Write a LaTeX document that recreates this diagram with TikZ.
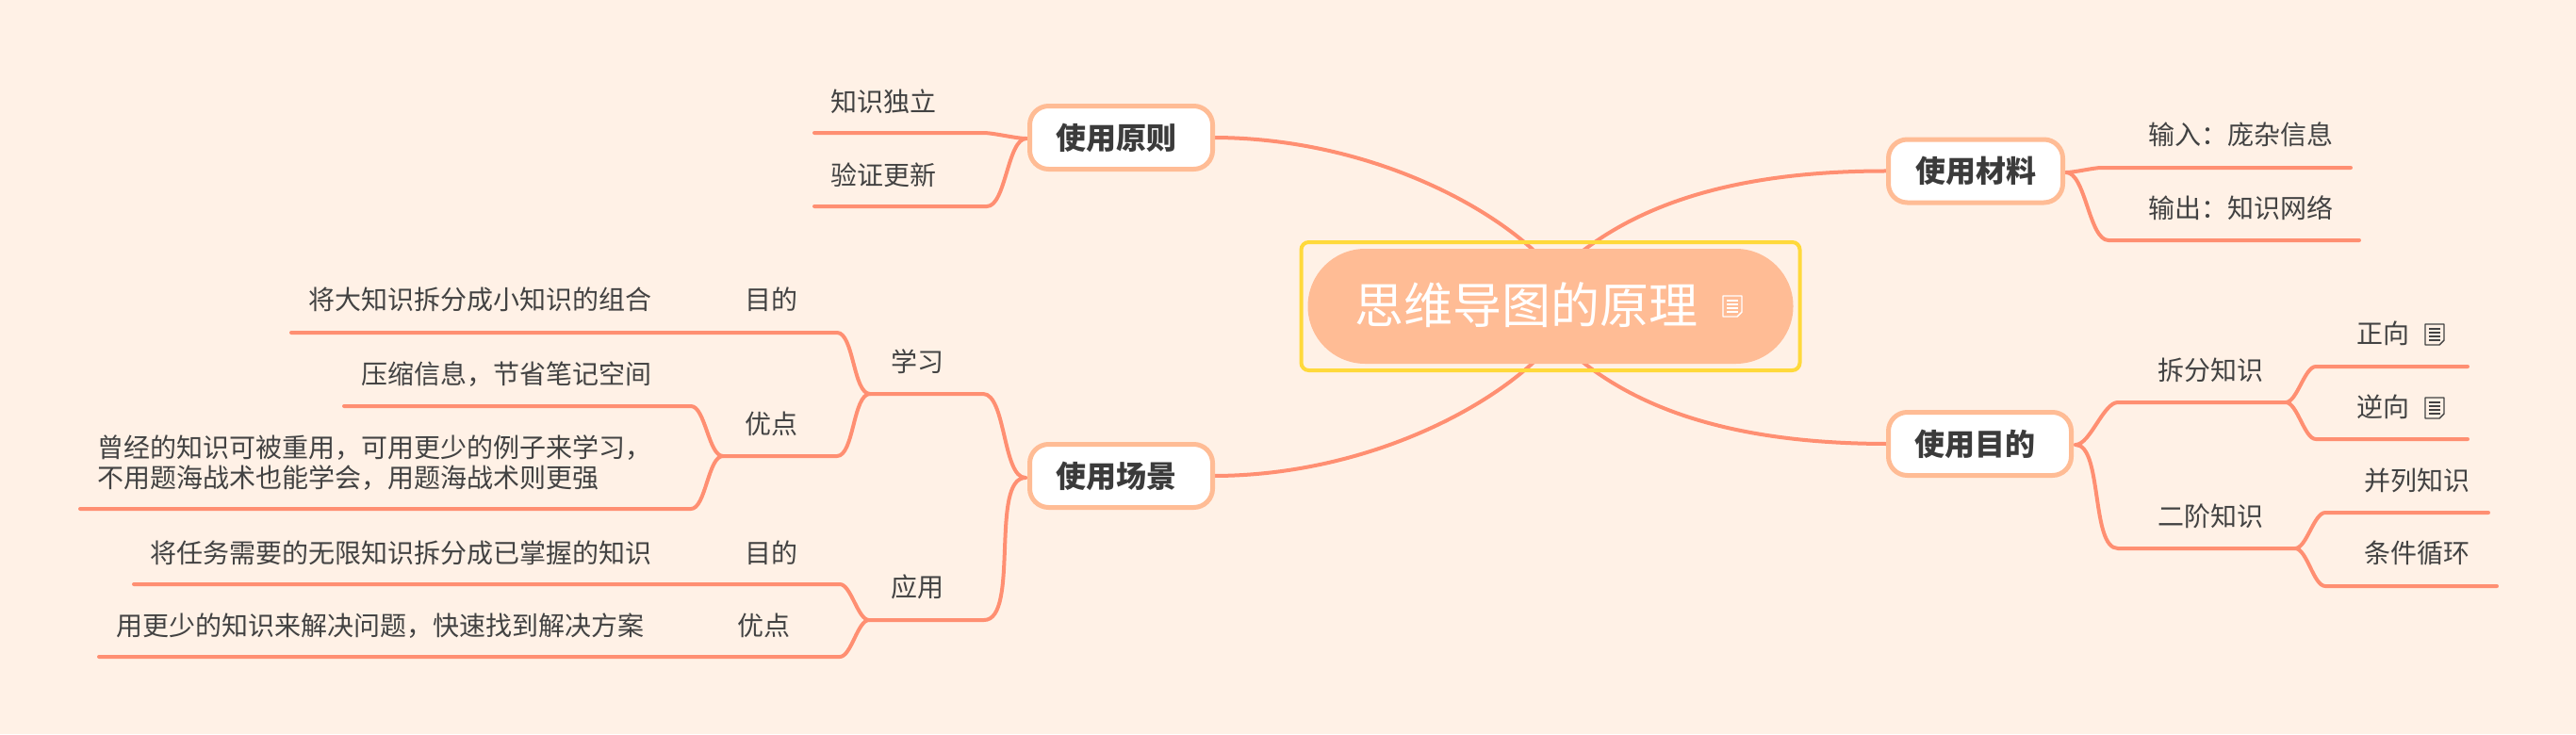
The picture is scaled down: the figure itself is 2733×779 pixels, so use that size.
\documentclass[tikz,border=0pt]{standalone}
\usepackage{fontspec}
\setmainfont{Noto Sans CJK SC}
\usetikzlibrary{backgrounds}
\definecolor{bgc}{HTML}{FFF1E6}
\definecolor{branch}{HTML}{FF8F72}
\definecolor{pale}{HTML}{FFBC95}
\definecolor{hilite}{HTML}{FFD93B}
\definecolor{ink}{HTML}{424242}
\tikzset{
  x=1pt,y=-1pt,
  every node/.style={inner sep=0pt,outer sep=0pt},
  leaf/.style={font=\fontsize{28}{32}\selectfont,text=ink,text height=24pt,text depth=3pt},
  primary/.style={draw=pale,line width=5pt,fill=white,rounded corners=20pt,
    minimum height=67pt,font=\bfseries\fontsize{32}{36}\selectfont,text=ink!90!black,
    text height=27.5pt,text depth=3.5pt},
  rootpill/.style={fill=pale,rounded corners=60.9pt,minimum width=515pt,minimum height=122pt},
  roottext/.style={font=\fontsize{52}{60}\selectfont,text=white,text height=44.5pt,text depth=5.5pt},
  focus/.style={draw=hilite,line width=4pt,rounded corners=8pt,minimum width=529pt,minimum height=136pt},
  link/.style={draw=branch,line width=4pt,line cap=round,line join=round},
  sshape/.style={out=#1,in=#1+180,looseness=.62},
  sshape/.default=0,
  noteicon/.pic={
    \draw[line width=1.4pt,line join=round] (-10,-11) -- (10,-11) -- (10,6) -- (5,11) -- (-10,11) -- cycle;
    \draw[line width=1.4pt] (-6,-6) -- (6,-6) (-6,-2) -- (6,-2) (-6,2) -- (6,2) (-6,6) -- (6,6);
  }
}
\begin{document}
\begin{tikzpicture}
\useasboundingbox (0,0) rectangle (2733,779);
% nodes
\node[rootpill] (root) at (1645,325) {};
\node[roottext] (roottxt) at (1619,324) {思维导图的原理};
\pic[white] at (1838,325) {noteicon};
\node[focus] (rootfocus) at (1645,325) {};
\coordinate (rootul) at (1646,285);
\coordinate (rootll) at (1646,365);
\coordinate (rootur) at (1657,285);
\coordinate (rootlr) at (1657,365);

\node[primary,minimum width=194pt] (yl) at (1189.5,146) {使用原则\hspace*{10pt}};
\node[primary,minimum width=194pt] (cj) at (1189.5,505) {使用场景\hspace*{10pt}};
\node[primary,minimum width=185pt] (cl) at (2096,181.5) {使用材料};
\node[primary,minimum width=194pt] (md) at (2100.5,471) {使用目的\hspace*{10pt}};

% right upper
\node[leaf] (cl1) at (2377,143) {输入：庞杂信息};
\node[leaf] (cl2) at (2377,221) {输出：知识网络};
\coordinate (cla) at (2192,183);
\coordinate (cl1c) at (2230,178);\coordinate (cl1e) at (2494,178);
\coordinate (cl2c) at (2237,255);\coordinate (cl2e) at (2503,255);

% right lower
\node[leaf] (cf) at (2345.5,393) {拆分知识};
\node[leaf] (ej) at (2345.5,548) {二阶知识};
\node[leaf] (zx) at (2528.5,354) {正向};
\pic[ink] at (2583,355) {noteicon};
\node[leaf] (nx) at (2528.5,432) {逆向};
\pic[ink] at (2583,433) {noteicon};
\node[leaf] (bl) at (2564.5,510) {并列知识};
\node[leaf] (tj) at (2564.5,587) {条件循环};
\coordinate (mda) at (2202,472);
\coordinate (cfc) at (2247,427);\coordinate (cfe) at (2425,427);
\coordinate (ejc) at (2247,582);\coordinate (eje) at (2435,582);
\coordinate (zxc) at (2457,389);\coordinate (zxe) at (2618,389);
\coordinate (nxc) at (2457,466);\coordinate (nxe) at (2618,466);
\coordinate (blc) at (2467,544);\coordinate (ble) at (2640,544);
\coordinate (tjc) at (2467,622);\coordinate (tje) at (2649,622);

% left upper
\node[leaf] (zs) at (937,108) {知识独立};
\node[leaf] (yz) at (937,186) {验证更新};
\coordinate (yla) at (1089,147);
\coordinate (zsc) at (1043,141);\coordinate (zse) at (864,141);
\coordinate (yzc) at (1047,219);\coordinate (yze) at (864,219);

% left lower
\node[leaf] (xx) at (973,384) {学习};
\node[leaf] (yy) at (973.5,623) {应用};
\node[leaf] (m1) at (818.5,318) {目的};
\node[leaf] (y1) at (818.5,450) {优点};
\node[leaf] (m2) at (818.5,587) {目的};
\node[leaf] (y2) at (810,664) {优点};
\node[leaf] (t1) at (509,318) {将大知识拆分成小知识的组合};
\node[leaf] (t2) at (537,397) {压缩信息，节省笔记空间};
\node[leaf,align=left,anchor=west] (t3) at (103,507) {曾经的知识可被重用，可用更少的例子来学习，\\不用题海战术也能学会，用题海战术则更强};
\node[leaf] (t4) at (425,587) {将任务需要的无限知识拆分成已掌握的知识};
\node[leaf] (t5) at (403,664) {用更少的知识来解决问题，快速找到解决方案};
\coordinate (cja) at (1088,507);
\coordinate (xxc) at (1043,418);\coordinate (xxa) at (923,418);
\coordinate (yyc) at (1044,658);\coordinate (yya) at (922,658);
\coordinate (m1c) at (888,353);\coordinate (m1e) at (309,353);
\coordinate (y1c) at (888,484);\coordinate (y1a) at (767,484);
\coordinate (t2c) at (733,431);\coordinate (t2e) at (365,431);
\coordinate (t3c) at (733,540);\coordinate (t3e) at (85,540);
\coordinate (m2c) at (891,620);\coordinate (m2e) at (142,620);
\coordinate (y2c) at (891,697);\coordinate (y2e) at (105,697);

\begin{scope}[on background layer]
\fill[bgc] (0,0) rectangle (2733,779);
% root links
\draw[link] (yl.east) .. controls (1450,146) and (1590,220) .. (rootul);
\draw[link] (cj.east) .. controls (1450,505) and (1590,430) .. (rootll);
\draw[link] (cl.west) .. controls (1830,181) and (1725,222) .. (rootur);
\draw[link] (md.west) .. controls (1830,471) and (1725,430) .. (rootlr);
% children
\draw[link] (cla) to[sshape=0] (cl1c) -- (cl1e);
\draw[link] (cla) to[sshape=0] (cl2c) -- (cl2e);
\draw[link] (mda) to[sshape=0] (cfc) -- (cfe);
\draw[link] (mda) to[sshape=0] (ejc) -- (eje);
\draw[link] (cfe) to[sshape=0] (zxc) -- (zxe);
\draw[link] (cfe) to[sshape=0] (nxc) -- (nxe);
\draw[link] (eje) to[sshape=0] (blc) -- (ble);
\draw[link] (eje) to[sshape=0] (tjc) -- (tje);
\draw[link] (yla) to[sshape=180] (zsc) -- (zse);
\draw[link] (yla) to[sshape=180] (yzc) -- (yze);
\draw[link] (cja) to[sshape=180] (xxc) -- (xxa);
\draw[link] (cja) to[sshape=180] (yyc) -- (yya);
\draw[link] (xxa) to[sshape=180] (m1c) -- (m1e);
\draw[link] (xxa) to[sshape=180] (y1c) -- (y1a);
\draw[link] (y1a) to[sshape=180] (t2c) -- (t2e);
\draw[link] (y1a) to[sshape=180] (t3c) -- (t3e);
\draw[link] (yya) to[sshape=180] (m2c) -- (m2e);
\draw[link] (yya) to[sshape=180] (y2c) -- (y2e);
\end{scope}
\end{tikzpicture}
\end{document}
